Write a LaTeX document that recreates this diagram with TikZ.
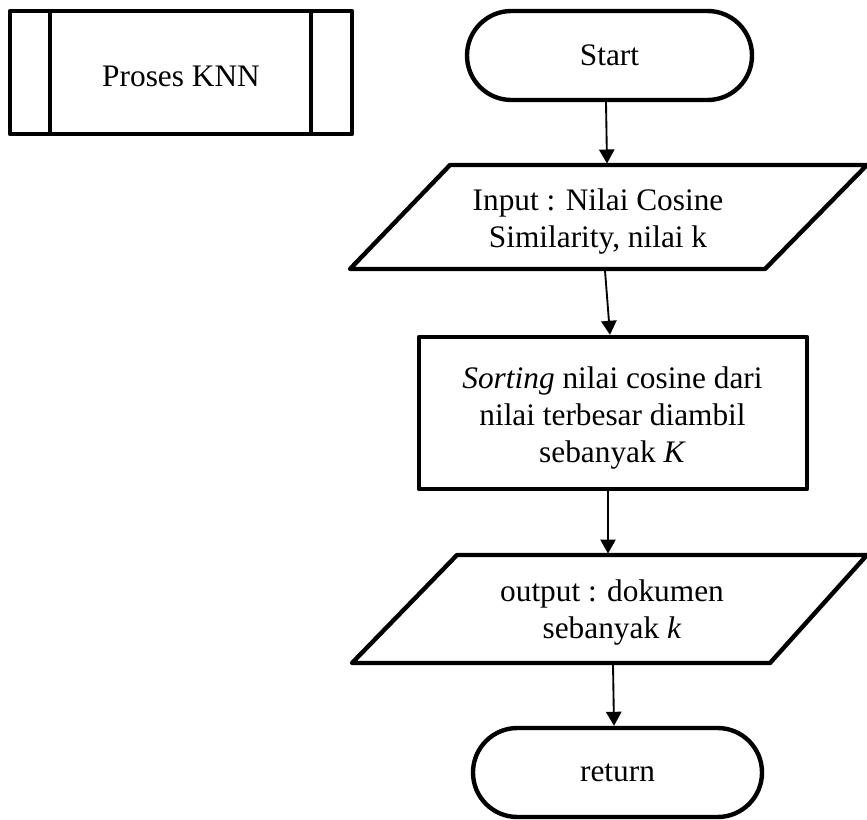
\documentclass[tikz,border=0pt]{standalone}
\usepackage{fontspec}
\setmainfont{Liberation Serif}
\usetikzlibrary{arrows.meta}
\begin{document}
\begin{tikzpicture}[x=0.75pt,y=-0.75pt,
  every node/.style={font=\fontsize{23.5}{27.75}\selectfont, align=center, inner sep=0pt},
  shapeline/.style={draw, line width=3.3pt, line join=round},
  terminal/.style={shapeline, rectangle, rounded corners=33.3pt,
    minimum width=285*0.75pt, minimum height=89*0.75pt},
  iobox/.style={rectangle, outer sep=0pt},
  label text/.style={draw=none},
  flow/.style={line width=1.4pt, -{Triangle[length=10.5pt,width=11.5pt]}}
]
\useasboundingbox (0,0) rectangle (867,820);

% predefined process
\node[shapeline, rectangle, minimum width=342*0.75pt, minimum height=123*0.75pt]
  (knn) at (181,72.5) {};
\draw[line width=3.3pt] ([shift={(42,0)}]knn.north west) -- ([shift={(42,0)}]knn.south west);
\draw[line width=3.3pt] ([shift={(-43,0)}]knn.north east) -- ([shift={(-43,0)}]knn.south east);
\node[label text] (knntext) at (181,76) {Proses KNN};

% terminator
\node[terminal] (start) at (609.5,55.5) {Start};

% input
\node[iobox, minimum width=416*0.75pt, minimum height=104*0.75pt] (in) at (598,217) {};
\draw[shapeline] ([shift={(60,0)}]in.north west) -- ([shift={(61,0)}]in.north east)
  -- ([shift={(-41,0)}]in.south east) -- ([shift={(-40,0)}]in.south west) -- cycle;
\node[label text] (intext) at (598,221.5) {Input : Nilai Cosine\\Similarity, nilai k};

% process
\node[shapeline, rectangle, minimum width=388*0.75pt, minimum height=152*0.75pt]
  (sort) at (613,413) {};
\node[label text] (sorttext) at (612.5,418)
  {\textit{Sorting} nilai cosine dari\\nilai terbesar diambil\\sebanyak \textit{K}};

% output
\node[iobox, minimum width=414*0.75pt, minimum height=108*0.75pt] (out) at (611.5,609) {};
\draw[shapeline] ([shift={(52.5,0)}]out.north west) -- ([shift={(48.5,0)}]out.north east)
  -- ([shift={(-48.5,0)}]out.south east) -- ([shift={(-52.5,0)}]out.south west) -- cycle;
\node[label text] (outtext) at (612,612.5) {output : dokumen\\sebanyak \textit{k}};

% terminator
\node[terminal, minimum width=289*0.75pt] (ret) at (617.5,772.5) {return};

% flow lines
\draw[flow] ([shift={(-3.5,0)}]start.south) -- ([shift={(9,-1.5)}]in.north);
\draw[flow] ([shift={(7,1.5)}]in.south) -- ([shift={(-3,0)}]sort.north);
\draw[flow] ([shift={(-5,0)}]sort.south) -- ([shift={(-3.5,-1.5)}]out.north);
\draw[flow] ([shift={(1.5,1.5)}]out.south) -- ([shift={(-3.5,0)}]ret.north);
\end{tikzpicture}
\end{document}
